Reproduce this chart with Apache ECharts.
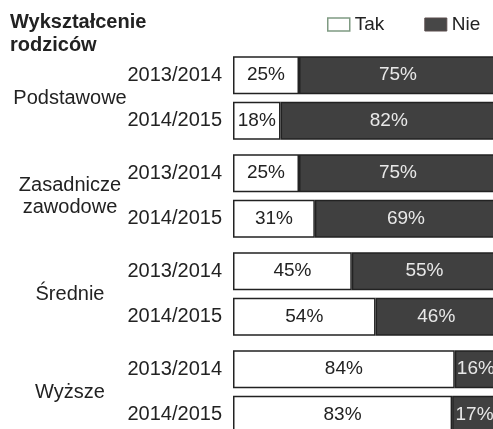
<!DOCTYPE html>
<html>
<head>
<meta charset="utf-8">
<script src="https://cdn.jsdelivr.net/npm/echarts@6/dist/echarts.min.js"></script>
<style>
  html, body { margin: 0; padding: 0; background: #fff; }
  #main { width: 493px; height: 429px; }
</style>
</head>
<body>
<div id="main"></div>
<script>
    // dane z wykresu
    var groups = ['Podstawowe', 'Zasadnicze\nzawodowe', 'Średnie', 'Wyższe'];
    var years = ['2013/2014', '2014/2015'];
    var tak2013 = [25, 25, 45, 84];
    var nie2013 = [75, 75, 55, 16];
    var tak2014 = [18, 31, 54, 83];
    var nie2014 = [82, 69, 46, 17];
    var yearAnchor = [0, 0, 0, 0]; // pusta seria tylko na etykietę roku

    var dark = '#404040';
    var edge = '#222';
    var font = 'Liberation Sans, Arial, sans-serif';

    function yearSeries(stack, year) {
        return {
            name: year, type: 'bar', stack: stack, barWidth: 38,
            data: yearAnchor, silent: true,
            itemStyle: { color: 'transparent', borderWidth: 0 },
            label: { show: true, position: 'left', distance: 11, formatter: year,
                     color: '#222', fontSize: 20, fontFamily: font }
        };
    }

    function takSeries(stack, vals) {
        return {
            name: 'Tak', type: 'bar', stack: stack, barWidth: 38, barGap: '20%',
            data: vals,
            itemStyle: { color: '#fff', borderColor: edge, borderWidth: 1.5 },
            label: { show: true, position: 'inside', formatter: '{c}%',
                     color: '#222', fontSize: 19, fontFamily: font }
        };
    }

    function nieSeries(stack, vals) {
        return {
            name: 'Nie', type: 'bar', stack: stack, barWidth: 38,
            data: vals,
            itemStyle: { color: dark, borderColor: edge, borderWidth: 1.5 },
            label: { show: true, position: 'inside', formatter: '{c}%',
                     color: '#e8e8e8', fontSize: 19, fontFamily: font }
        };
    }

    var myChart = echarts.init(document.getElementById('main'));

    var option = {
        animation: false,
        title: {
            text: 'Wykształcenie\nrodziców',
            left: 5, top: 6,
            textStyle: { fontSize: 20, fontWeight: 'bold', color: '#222', lineHeight: 23, fontFamily: font }
        },
        legend: {
            data: [
                { name: 'Tak', icon: 'rect', itemStyle: { color: '#fff', borderColor: '#7f9a82', borderWidth: 1.5 } },
                { name: 'Nie', icon: 'rect', itemStyle: { color: '#474747', borderColor: '#5a4c4c', borderWidth: 1 } }
            ],
            left: 322, top: 10,
            itemWidth: 22, itemHeight: 13, itemGap: 40,
            textStyle: { fontSize: 19, color: '#222', fontFamily: font }
        },
        grid: { left: 233, right: -4, top: 49, height: 392, containLabel: false, outerBoundsMode: 'none' },
        xAxis: { type: 'value', min: 0, max: 100, show: false },
        yAxis: {
            type: 'category', data: groups, inverse: true,
            axisLine: { show: false }, axisTick: { show: false },
            axisLabel: { align: 'center', margin: 163, fontSize: 20, lineHeight: 22,
                         color: '#222', fontFamily: font }
        },
        series: [
            yearSeries('a', years[0]),
            takSeries('a', tak2013),
            nieSeries('a', nie2013),
            yearSeries('b', years[1]),
            takSeries('b', tak2014),
            nieSeries('b', nie2014)
        ]
    };

    myChart.setOption(option);
</script>
</body>
</html>
